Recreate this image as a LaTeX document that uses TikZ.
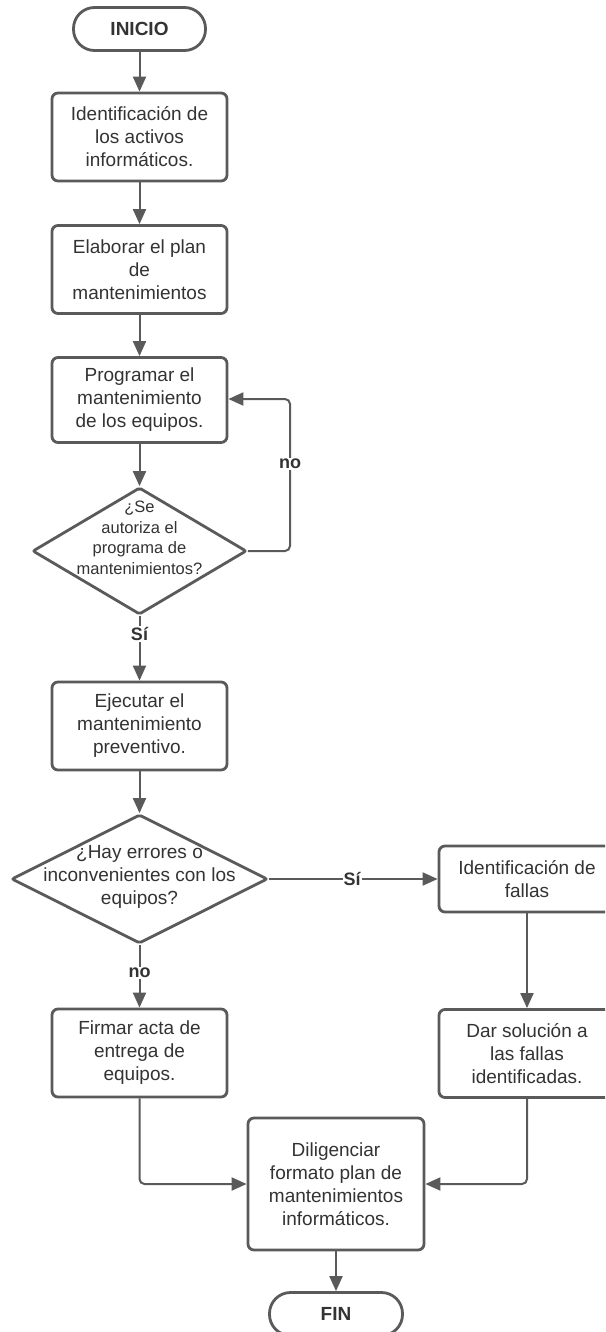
\documentclass[tikz,border=0pt]{standalone}
\usepackage{fontspec}
\setmainfont{Liberation Sans}
\usetikzlibrary{arrows.meta,shapes.geometric}
\definecolor{ln}{HTML}{5A5A5A}
\definecolor{tx}{HTML}{333333}
\begin{document}
\begin{tikzpicture}[x=1pt,y=-1pt,
 proc/.style={draw=ln,line width=2.8pt,fill=white,rounded corners=6pt,minimum width=175pt,minimum height=88pt,inner sep=0pt,align=center,text=tx,font=\fontsize{19}{23}\selectfont},
 term/.style={draw=ln,line width=2.8pt,fill=white,rounded corners=21pt,minimum width=132pt,minimum height=43pt,inner sep=0pt,text=tx,font=\bfseries\fontsize{19}{23}\selectfont},
 dec/.style={draw=ln,line width=2.8pt,fill=white,diamond,inner sep=0pt,rounded corners=2pt},
 dtext/.style={align=center,text=tx,inner sep=0pt},
 conn/.style={draw=ln,line width=2pt,-{Triangle[length=15pt,width=13pt]}},
 lbl/.style={fill=white,text=tx,font=\bfseries\fontsize{18}{22}\selectfont,inner sep=1pt}]
\useasboundingbox (0,0) rectangle (605,1332);
\clip (0,0) rectangle (605,1332);
\fill[white] (0,0) rectangle (605,1332);
% nodes
\node[term] (start) at (139.5,29) {INICIO};
\node[proc] (b1) at (139.5,137) {Identificación de\\los activos\\informáticos.};
\node[proc] (b2) at (139.5,269.5) {Elaborar el plan\\de\\mantenimientos};
\node[proc,minimum height=85pt] (b3) at (139.5,400) {Programar el\\mantenimiento\\de los equipos.};
\node[dec,minimum width=214pt,minimum height=127pt] (d1) at (139.5,551) {};
\node[dtext,font=\fontsize{16.5}{20.5}\selectfont] (d1t) at (139.5,538) {¿Se\\autoriza el\\programa de\\mantenimientos?};
\node[proc] (b4) at (139.5,726) {Ejecutar el\\mantenimiento\\preventivo.};
\node[dec,minimum width=256pt,minimum height=129pt] (d2) at (139.5,879) {};
\node[dtext,font=\fontsize{19}{23}\selectfont] (d2t) at (139.5,877) {¿Hay errores o\\inconvenientes con los\\equipos?};
\node[proc,minimum width=176pt,minimum height=66pt] (b5) at (527,879) {Identificación de\\fallas};
\node[proc,minimum width=176pt] (b6) at (527,1053.5) {Dar solución a\\las fallas\\identificadas.};
\node[proc] (b7) at (139.5,1053) {Firmar acta de\\entrega de\\equipos.};
\node[proc,minimum width=176pt,minimum height=132pt] (b8) at (336,1184) {Diligenciar\\formato plan de\\mantenimientos\\informáticos.};
\node[term,minimum width=133pt] (fin) at (336,1314) {FIN};
\coordinate (lp) at (290,399);
% connectors
\draw[conn] (start) -- (b1);
\draw[conn] (b1) -- (b2);
\draw[conn] (b2) -- (b3);
\draw[conn] (b3) -- (d1.north);
\draw[conn,rounded corners=5pt] (d1.east) -| (lp) -- (b3.east |- lp);
\draw[conn] (d1.south) -- (b4.north);
\draw[conn] (b4) -- (d2.north);
\draw[conn] (d2.east) -- (b5.west);
\draw[conn] (d2.south) -- (b7.north);
\draw[conn] (b5) -- (b6);
\draw[conn,rounded corners=5pt] (b7.south) |- (b8.west);
\draw[conn,rounded corners=5pt] (b6.south) |- (b8.east);
\draw[conn] (b8) -- (fin);
% labels
\node[lbl] (no1) at (290,464) {no};
\node[lbl] (si1) at (139.5,634) {Sí};
\node[lbl] (si2) at (352,879) {Sí};
\node[lbl] (no2) at (139.5,973) {no};
\end{tikzpicture}
\end{document}
